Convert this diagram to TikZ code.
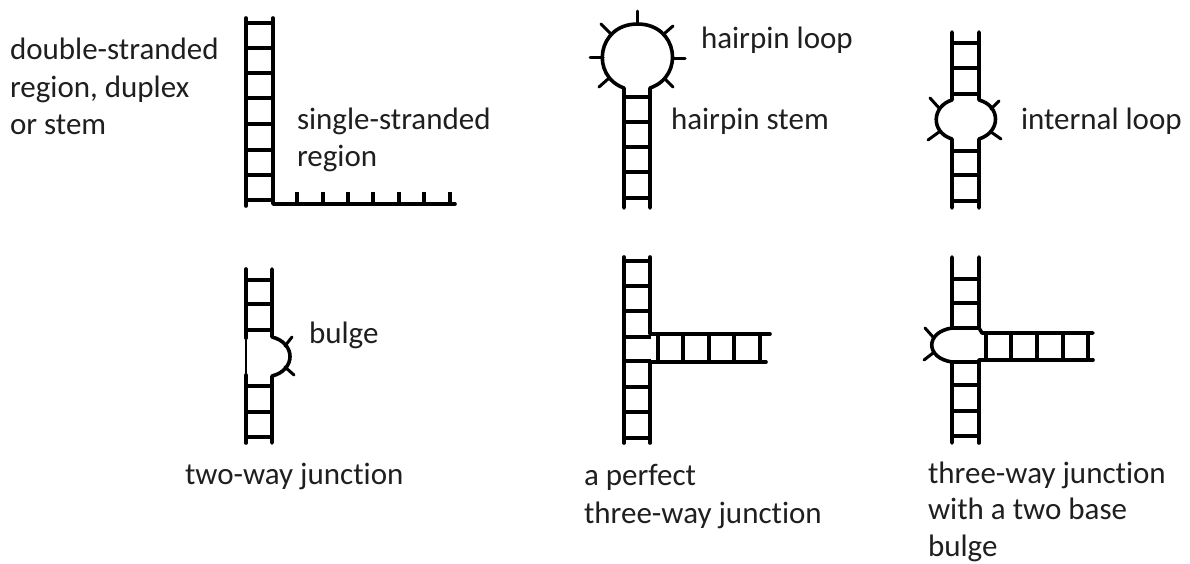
\documentclass[tikz,border=0pt]{standalone}
\usepackage{fontspec}
\setmainfont[Ligatures=NoCommon]{Carlito}
\tikzset{
  strand/.style={line width=3.6pt,line cap=round,line join=round,black},
  rung/.style={line width=3.2pt,black},
  tick/.style={line width=3pt,line cap=round,black},
  label/.style={inner sep=0pt,outer sep=0pt,anchor=base west,font=\fontsize{31}{37.5}\selectfont,text=black!88,align=left},
}
\newcommand{\hrungs}[3]{\foreach \yy in {#3} \draw[rung] (#1,\yy) -- (#2,\yy);}
\newcommand{\vrungs}[3]{\foreach \xx in {#3} \draw[rung] (\xx,#1) -- (\xx,#2);}
\begin{document}
\begin{tikzpicture}[x=1pt,y=-1pt]
\useasboundingbox (0,0) rectangle (1190,563);
\fill[white] (0,0) rectangle (1190,563);
% panel 1: duplex and single strand
\draw[strand] (246,18) -- (246,206);
\draw[strand] (273,18) -- (273,204) -- (455,204);
\hrungs{246}{273}{23,48,73,98,124,150,175,200}
\vrungs{192}{204}{297,323,348,373,399,424,450}
% panel 2: hairpin
\draw[strand] (624,208) -- (624,88) .. controls (590,76) and (597,24) .. (637.5,24)
   .. controls (678,24) and (685,76) .. (650,88) -- (650,208);
\hrungs{624}{650}{97,122,147,172,198}
\draw[tick] (637,24) -- (637,11);
\draw[tick] (610,33) -- (601,24);
\draw[tick] (603,57) -- (590,57);
\draw[tick] (673,58) -- (685,58);
\draw[tick] (665,33) -- (673,26);
\draw[tick] (608,79) -- (599,87);
\draw[tick] (665,79) -- (673,87);
% panel 3: internal loop
\draw[strand] (952,32) -- (952,100) .. controls (932,106) and (930,132) .. (952,139) -- (952,208);
\draw[strand] (979,32) -- (979,100) .. controls (1001,106) and (1001,132) .. (979,139) -- (979,208);
\hrungs{952}{979}{43,68,94,151,175,201}
\draw[tick] (930,98) -- (939,108);
\draw[tick] (999,101) -- (991,109);
\draw[tick] (928,140) -- (939,132);
\draw[tick] (1001,139) -- (991,132);
% panel 4: bulge
\draw[strand] (246,269) -- (246,338);
\draw[line width=2pt] (246,338) -- (246,375);
\draw[strand] (246,375) -- (246,443);
\draw[strand] (272,269) -- (272,337) .. controls (296,343) and (296,370) .. (272,376) -- (272,443);
\hrungs{246}{272}{280,304,330,386,412,437}
\draw[tick] (292,337) -- (285,346);
\draw[tick] (294,375) -- (285,367);
% panel 5: perfect junction
\draw[strand] (624,257) -- (624,443);
\draw[strand] (650,257) -- (650,334) -- (770,334);
\draw[strand] (650,443) -- (650,362) -- (766,362);
\hrungs{624}{651}{261,286,311,337,361,387,412,438}
\vrungs{334}{362}{658,683,709,734,760}
% panel 6: junction with bulge
\draw[strand] (952,257) -- (952,328) .. controls (925,332) and (925,358) .. (952,362) -- (952,443);
\draw[strand] (979,257) -- (979,328) -- (982,333) -- (1093,333);
\draw[strand] (979,443) -- (979,360) -- (1093,360);
\hrungs{952}{979}{279,303,328,362,385,411,436}
\vrungs{333}{360}{986,1011,1037,1063,1088}
\draw[tick] (925,328) -- (933,337);
\draw[tick] (924,360) -- (933,353);
% labels
\node[label] (duplex) at (10,134.5) {double-stranded\\region, duplex\\or stem};
\node[label] (single) at (297,166.5) {single-stranded\\region};
\node[label] (hloop) at (701,48) {hairpin loop};
\node[label] (hstem) at (671,129) {hairpin stem};
\node[label] (iloop) at (1021,129) {internal loop};
\node[label] (bulge) at (309,343) {bulge};
\node[label] (twoway) at (185,484) {two-way junction};
\node[label] (perfect) at (584,523) {a perfect\\three-way junction};
\node[label,font=\fontsize{31}{36.5}\selectfont] (threeway) at (928,556) {three-way junction\\with a two base\\bulge};
\end{tikzpicture}
\end{document}
